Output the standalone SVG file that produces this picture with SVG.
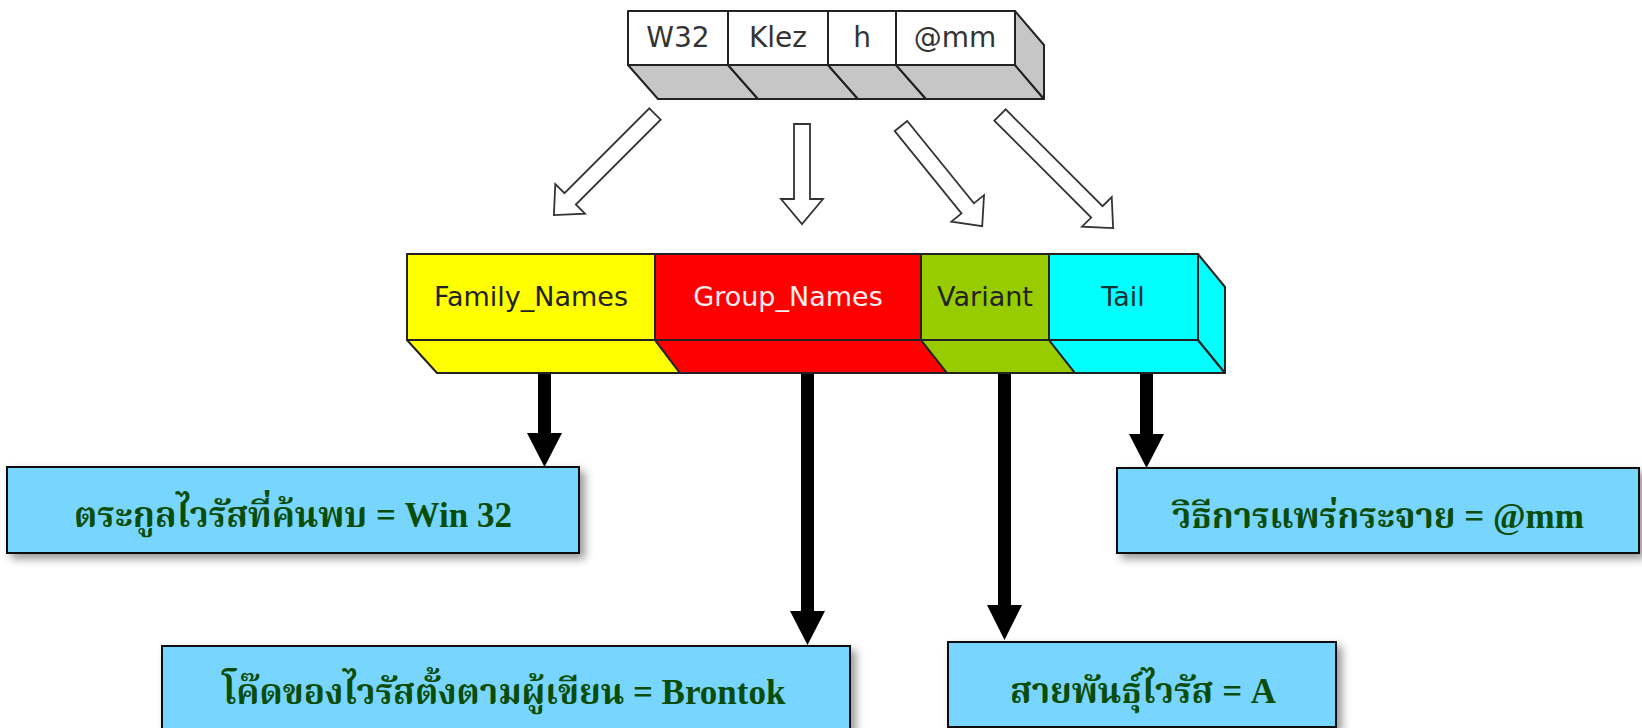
<svg xmlns="http://www.w3.org/2000/svg" width="1642" height="728" viewBox="0 0 1642 728">
<style>
.seg{stroke:#222;stroke-width:2;stroke-linejoin:round}
.gray{fill:#c6c6c6}
.lbl{font-family:"DejaVu Sans",Verdana,sans-serif;font-size:27px;text-anchor:middle}
.top{fill:#333;font-size:28px}
.hollow{fill:#fff;stroke:#333;stroke-width:1.8;stroke-linejoin:miter}
.blk{fill:#000}
.box{fill:#78d5fe;stroke:#111;stroke-width:2}
.th{font-family:"Liberation Serif","Noto Serif Thai","Noto Sans Thai",serif;font-weight:bold;font-size:35px;fill:#0a4d0a;text-anchor:middle}
</style>
<defs>
<filter id="sh" x="-10%" y="-20%" width="130%" height="160%">
<feDropShadow dx="5" dy="5" stdDeviation="4" flood-color="#000" flood-opacity="0.4"/>
</filter>
</defs>
<rect width="1642" height="728" fill="#fff"/>

<g id="top-box">
<polygon class="seg gray" points="628,65 728,65 758,99 658,99"/>
<polygon class="seg gray" points="728,65 828,65 858,99 758,99"/>
<polygon class="seg gray" points="828,65 896,65 926,99 858,99"/>
<polygon class="seg gray" points="896,65 1015,65 1044,99 926,99"/>
<polygon class="seg gray" points="1015,11 1044,45 1044,99 1015,65"/>
<rect class="seg" x="628" y="11" width="100" height="54" fill="#fff"/>
<rect class="seg" x="728" y="11" width="100" height="54" fill="#fff"/>
<rect class="seg" x="828" y="11" width="68" height="54" fill="#fff"/>
<rect class="seg" x="896" y="11" width="119" height="54" fill="#fff"/>
<text class="lbl top" x="678" y="47">W32</text>
<text class="lbl top" x="778" y="47">Klez</text>
<text class="lbl top" x="862" y="47">h</text>
<text class="lbl top" x="955" y="47">@mm</text>
</g>

<g id="bar">
<polygon class="seg" fill="#ffff00" points="407,340 655,340 680,373 437,373"/>
<polygon class="seg" fill="#ff0000" points="655,340 921,340 947,373 680,373"/>
<polygon class="seg" fill="#99cc00" points="921,340 1049,340 1075,373 947,373"/>
<polygon class="seg" fill="#00ffff" points="1049,340 1198,340 1225,373 1075,373"/>
<polygon class="seg" fill="#00ffff" points="1198,254 1225,287 1225,373 1198,340"/>
<rect class="seg" x="407" y="254" width="248" height="86" fill="#ffff00"/>
<rect class="seg" x="655" y="254" width="266" height="86" fill="#ff0000"/>
<rect class="seg" x="921" y="254" width="128" height="86" fill="#99cc00"/>
<rect class="seg" x="1049" y="254" width="149" height="86" fill="#00ffff"/>
<text class="lbl" x="531" y="306" fill="#222">Family_Names</text>
<text class="lbl" x="788" y="306" fill="#fff0f0">Group_Names</text>
<text class="lbl" x="985" y="306" fill="#222">Variant</text>
<text class="lbl" x="1123" y="306" fill="#133">Tail</text>
</g>

<g id="connectors">
<polygon class="hollow" transform="translate(655,114) rotate(45)" points="-8,0 8,0 8,120 21,120 0,143 -21,120 -8,120"/>
<polygon class="hollow" transform="translate(802,124)" points="-8,0 8,0 8,75 21,75 0,100 -21,75 -8,75"/>
<polygon class="hollow" transform="translate(901,126) rotate(-39)" points="-8,0 8,0 8,106 21,106 0,129 -21,106 -8,106"/>
<polygon class="hollow" transform="translate(1000,115) rotate(-45)" points="-8,0 8,0 8,137 21,137 0,160 -21,137 -8,137"/>
<polygon class="blk" points="538,374 551,374 551,433 562,433 544.5,467 527,433 538,433"/>
<polygon class="blk" points="801,374 814,374 814,611 825,611 807.5,645 790,611 801,611"/>
<polygon class="blk" points="998,374 1011,374 1011,605 1022,605 1004.5,640 987,605 998,605"/>
<polygon class="blk" points="1140,374 1153,374 1153,434 1164,434 1146.5,468 1129,434 1140,434"/>
</g>

<g id="box-family">
<rect class="box" filter="url(#sh)" x="7" y="467" width="572" height="86"/>
<text class="th" x="293" y="527">ตระกูลไวรัสที่ค้นพบ = Win 32</text>
</g>
<g id="box-group">
<rect class="box" filter="url(#sh)" x="162" y="646" width="688" height="100"/>
<text class="th" x="504" y="704">โค๊ดของไวรัสตั้งตามผู้เขียน = Brontok</text>
</g>
<g id="box-variant">
<rect class="box" filter="url(#sh)" x="948" y="642" width="388" height="85"/>
<text class="th" x="1143" y="703">สายพันธุ์ไวรัส = A</text>
</g>
<g id="box-tail">
<rect class="box" filter="url(#sh)" x="1117" y="468" width="522" height="85"/>
<text class="th" x="1378" y="528">วิธีการแพร่กระจาย = @mm</text>
</g>
</svg>
